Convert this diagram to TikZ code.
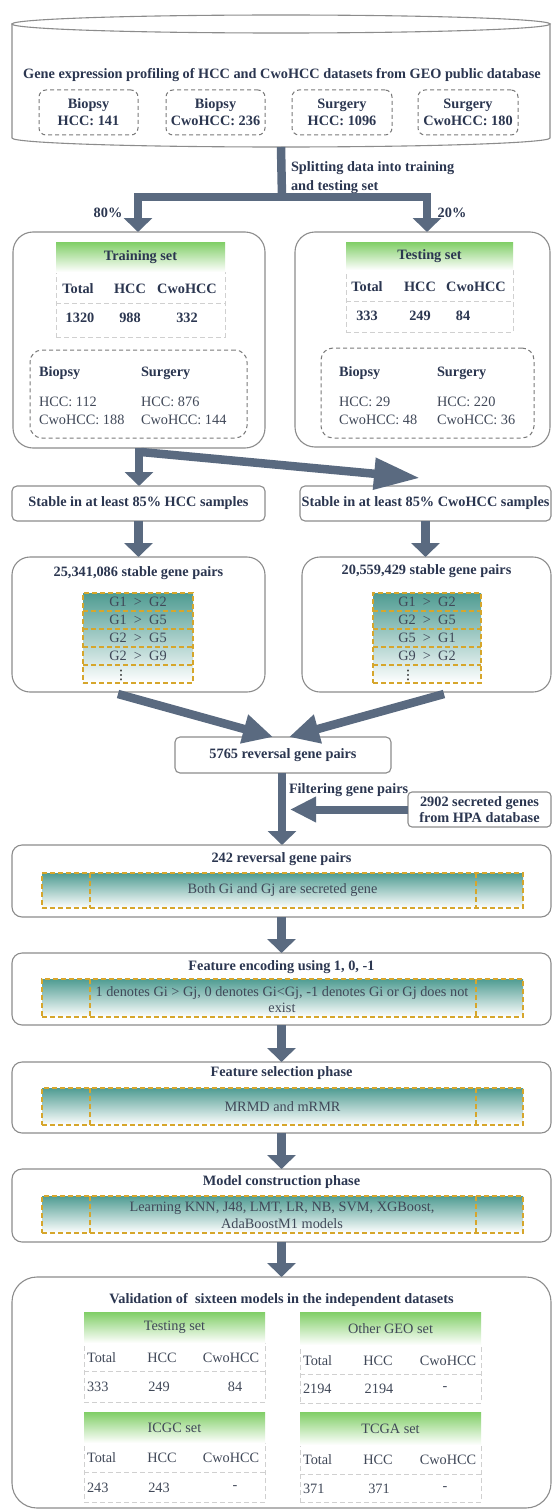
\documentclass[tikz,border=0pt]{standalone}
\usepackage{fontspec}
\setmainfont{Liberation Serif}
\newfontfamily\symfont{DejaVu Sans}
\usetikzlibrary{arrows.meta,calc}
\definecolor{txt}{HTML}{2B3650}
\definecolor{ntxt}{HTML}{404858}
\definecolor{bord}{HTML}{8C8C8C}
\definecolor{arrc}{HTML}{5A6A80}
\definecolor{grn}{HTML}{80CE66}
\definecolor{tealc}{HTML}{4F9C92}
\definecolor{gold}{HTML}{D6A62C}
\definecolor{dgray}{HTML}{7A7A7A}
\definecolor{lgray}{HTML}{D0D0D0}
\newcommand\myfs{\fontsize{14.3}{17}\selectfont}
\begin{document}
\begin{tikzpicture}[x=1pt,y=-1pt,
  every node/.style={inner sep=0pt, outer sep=0pt},
  bt/.style={font=\myfs\bfseries, text=txt},
  nt/.style={font=\myfs, text=ntxt},
  rbox/.style={draw=bord, line width=1.1pt, fill=white, rounded corners=#1},
  rbox/.default=18pt,
  dbox/.style={draw=dgray, line width=1pt, dash pattern=on 4pt off 3pt, rounded corners=#1},
  dbox/.default=8pt,
  ghead/.style={top color=grn, bottom color=white, draw=none},
  ltab/.style={draw=lgray, line width=0.9pt, dash pattern=on 5pt off 3pt},
  ttab/.style={top color=tealc, bottom color=white, draw=gold, line width=1.5pt, dash pattern=on 5pt off 3pt},
  gdash/.style={draw=gold, line width=1.5pt, dash pattern=on 5pt off 3pt},
  tline/.style={line width=8.5pt, draw=arrc},
  arrow/.style={line width=8.5pt, draw=arrc, -{Triangle[width=28pt,length=14pt]}},
  vdot/.style={font=\symfont\fontsize{13}{13}\selectfont, text=black},
]
\useasboundingbox (0,0) rectangle (553,1509);

% ---------- database cylinder ----------
\filldraw[draw=bord, line width=1.1pt, fill=white] (12,24) -- (12,138)
  arc[start angle=180, end angle=360, x radius=269pt, y radius=9pt] -- (550,24) -- cycle;
\filldraw[draw=bord, line width=1.1pt, fill=white] (281,24) ellipse [x radius=269pt, y radius=9pt];
\coordinate (dbbot) at (281,147);
\node[bt] (dbtitle) at (282,75) {Gene expression profiling of HCC and CwoHCC datasets from GEO public database};
\node[dbox=7pt, minimum width=99pt, minimum height=45pt, bt, align=center] (b1) at (88.5,112.5) {Biopsy\\HCC: 141};
\node[dbox=7pt, minimum width=99pt, minimum height=45pt, bt, align=center] (b2) at (215.5,112.5) {Biopsy\\CwoHCC: 236};
\node[dbox=7pt, minimum width=100pt, minimum height=45pt, bt, align=center] (b3) at (342,112.5) {Surgery\\HCC: 1096};
\node[dbox=7pt, minimum width=100pt, minimum height=45pt, bt, align=center] (b4) at (468,112.5) {Surgery\\CwoHCC: 180};

% ---------- split ----------
\coordinate (split) at (282,197);
\coordinate (splitL) at (138,197);
\coordinate (splitR) at (427,197);
\node[bt, anchor=west, align=left, font=\fontsize{14.3}{19}\selectfont\bfseries] (splitlbl) at (291,177.5) {Splitting data into training\\and testing set};
\node[bt] (p80) at (108,213) {80\%};
\node[bt] (p20) at (452,213) {20\%};

% ---------- training / testing ----------
\node[rbox=20pt, minimum width=252pt, minimum height=216pt] (train) at (139,340) {};
\node[rbox=20pt, minimum width=255pt, minimum height=215pt] (test) at (422.5,339.5) {};

\draw[tline] (dbbot) -- (split);
\draw[tline, line cap=rect] (splitL) -- (splitR);
\draw[arrow] (splitL) -- (splitL |- train.north);
\draw[arrow] (splitR) -- (splitR |- test.north);

% training table
\node[ltab, minimum width=169pt, minimum height=65pt] (trt) at (140.5,304.5) {};
\draw[ltab] (trt.west |- 0,303) -- (trt.east |- 0,303);
\node[ghead, minimum width=169pt, minimum height=30pt, bt] (trh) at (140.5,257) {Training set};
\node[bt] (tr11) at (78,289) {Total};
\node[bt] (tr12) at (130,289) {HCC};
\node[bt] (tr13) at (187,289) {CwoHCC};
\node[bt] (tr21) at (80,318) {1320};
\node[bt] (tr22) at (130,318) {988};
\node[bt] (tr23) at (187,318) {332};
\node[dbox=12pt, minimum width=217pt, minimum height=88pt] (trd) at (138.5,394) {};
\node[bt, anchor=west] (trb) at (39,373) {Biopsy};
\node[bt, anchor=west] (trs) at (141,373) {Surgery};
\node[nt, anchor=west] (trb1) at (39,402) {HCC: 112};
\node[nt, anchor=west] (trb2) at (39,420) {CwoHCC: 188};
\node[nt, anchor=west] (trs1) at (141,402) {HCC: 876};
\node[nt, anchor=west] (trs2) at (141,420) {CwoHCC: 144};

% testing table
\node[ltab, minimum width=167pt, minimum height=62pt] (tet) at (429.5,301) {};
\draw[ltab] (tet.west |- 0,301) -- (tet.east |- 0,301);
\node[ghead, minimum width=167pt, minimum height=28pt, bt] (teh) at (429.5,256) {Testing set};
\node[bt] (te11) at (367,287) {Total};
\node[bt] (te12) at (420,287) {HCC};
\node[bt] (te13) at (476,287) {CwoHCC};
\node[bt] (te21) at (367,316) {333};
\node[bt] (te22) at (420,316) {249};
\node[bt] (te23) at (463,316) {84};
\node[dbox=12pt, minimum width=213pt, minimum height=90pt] (ted) at (427.5,393) {};
\node[bt, anchor=west] (teb) at (339,373) {Biopsy};
\node[bt, anchor=west] (tes) at (437,373) {Surgery};
\node[nt, anchor=west] (teb1) at (339,402) {HCC: 29};
\node[nt, anchor=west] (teb2) at (339,420) {CwoHCC: 48};
\node[nt, anchor=west] (tes1) at (437,402) {HCC: 220};
\node[nt, anchor=west] (tes2) at (437,420) {CwoHCC: 36};

% ---------- stable ----------
\node[rbox=5pt, minimum width=253pt, minimum height=35pt, bt] (stH) at (138.5,503.5) {Stable in at least 85\% HCC samples};
\node[rbox=5pt, minimum width=251pt, minimum height=35pt, bt] (stC) at (425.5,503.5) {Stable in at least 85\% CwoHCC samples};
\coordinate (diagst) at (141,452);
\coordinate (diagtip) at (420,478);
\draw[arrow] (train.south) -- (train.south |- stH.north);
\draw[line width=8.5pt, draw=arrc, -{Triangle[width=30pt,length=46pt]}] (diagst) -- (diagtip);

% ---------- pairs ----------
\node[rbox=18pt, minimum width=253pt, minimum height=135pt] (prL) at (138.5,624.5) {};
\node[rbox=18pt, minimum width=249pt, minimum height=135pt] (prR) at (426.5,624.5) {};
\draw[arrow] (stH.south) -- (stH.south |- prL.north);
\draw[arrow] (stC.south) -- (stC.south |- prR.north);
\node[bt] (prLt) at (138.5,573) {25,341,086 stable gene pairs};
\node[bt] (prRt) at (426.5,571) {20,559,429 stable gene pairs};
\node[ttab, minimum width=110pt, minimum height=90pt] (gtL) at (138,638) {};
\node[ttab, minimum width=108pt, minimum height=90pt] (gtR) at (427,638) {};
\foreach \yy in {611,629,647,665} {
  \draw[gdash] (gtL.west |- 0,\yy) -- (gtL.east |- 0,\yy);
  \draw[gdash] (gtR.west |- 0,\yy) -- (gtR.east |- 0,\yy);
}
\node[nt] (gl1) at (138,602) {G1\enspace>\enspace G2};
\node[nt] (gl2) at (138,620) {G1\enspace>\enspace G5};
\node[nt] (gl3) at (138,638) {G2\enspace>\enspace G5};
\node[nt] (gl4) at (138,656) {G2\enspace>\enspace G9};
\node[vdot] (gl5) at (121,675) {⋮};
\node[nt] (gr1) at (427,602) {G1\enspace>\enspace G2};
\node[nt] (gr2) at (427,620) {G2\enspace>\enspace G5};
\node[nt] (gr3) at (427,638) {G5\enspace>\enspace G1};
\node[nt] (gr4) at (427,656) {G9\enspace>\enspace G2};
\node[vdot] (gr5) at (408,675) {⋮};

% ---------- reversal ----------
\node[rbox=5pt, minimum width=216pt, minimum height=36pt, bt] (rev) at (283,755) {5765 reversal gene pairs};
\coordinate (cvL) at (118,694);
\coordinate (cvR) at (444,694);
\draw[line width=8.5pt, draw=arrc, -{Triangle[width=28pt,length=30pt]}] (cvL) -- ($(rev.north)+(-10,0)$);
\draw[line width=8.5pt, draw=arrc, -{Triangle[width=28pt,length=30pt]}] (cvR) -- ($(rev.north)+(6,0)$);

% ---------- 242 ----------
\node[rbox=10pt, minimum width=539pt, minimum height=72pt] (sel) at (281.5,881) {};
\node[bt] (selt) at (281.5,859) {242 reversal gene pairs};
\node[ttab, minimum width=481pt, minimum height=35pt, nt] (selg) at (282.5,890.5) {Both Gi and Gj are secreted gene};
\draw[gdash] (90,873) -- (90,908);
\draw[gdash] (476,873) -- (476,908);
\coordinate (revout) at (282,773);
\draw[arrow] (revout) -- (revout |- sel.north);
\node[bt, anchor=west] (filtlbl) at (289,790) {Filtering gene pairs};
\node[rbox=4pt, minimum width=143pt, minimum height=35pt, bt, align=center, font=\fontsize{14.3}{16}\selectfont\bfseries] (hpa) at (479.5,809.5) {2902 secreted genes\\from HPA database};
\coordinate (filt) at (290,809.5);
\draw[line width=8pt, draw=arrc, -{Triangle[width=24pt,length=26pt]}] (hpa.west) -- (filt);

% ---------- encoding ----------
\node[rbox=10pt, minimum width=539pt, minimum height=72pt] (enc) at (281.5,989) {};
\node[bt] (enct) at (281.5,967) {Feature encoding using 1, 0, -1};
\node[ttab, minimum width=481pt, minimum height=38pt] (encg) at (282.5,998) {};
\node[nt, align=center, font=\fontsize{14.3}{16}\selectfont] (encx) at (282,1000) {1 denotes Gi > Gj, 0 denotes Gi<Gj, -1 denotes Gi or Gj does not\\exist};
\draw[gdash] (90,979) -- (90,1017);
\draw[gdash] (476,979) -- (476,1017);
\draw[arrow] (sel.south) -- (sel.south |- enc.north);

% ---------- feature selection ----------
\node[rbox=10pt, minimum width=539pt, minimum height=71pt] (fsel) at (281.5,1097.5) {};
\node[bt] (fselt) at (281.5,1073) {Feature selection phase};
\node[ttab, minimum width=481pt, minimum height=37pt, nt] (fselg) at (282.5,1106.5) {MRMD and mRMR};
\draw[gdash] (90,1088) -- (90,1125);
\draw[gdash] (476,1088) -- (476,1125);
\draw[arrow] (enc.south) -- (enc.south |- fsel.north);

% ---------- model ----------
\node[rbox=10pt, minimum width=539pt, minimum height=73pt] (model) at (281.5,1205.5) {};
\node[bt] (modelt) at (281.5,1182) {Model construction phase};
\node[ttab, minimum width=481pt, minimum height=37pt] (modelg) at (282.5,1214.5) {};
\node[nt, align=center, font=\fontsize{14.3}{17}\selectfont] (modelx) at (282,1215.5) {Learning KNN, J48, LMT, LR, NB, SVM, XGBoost,\\AdaBoostM1 models};
\draw[gdash] (90,1196) -- (90,1233);
\draw[gdash] (476,1196) -- (476,1233);
\draw[arrow] (fsel.south) -- (fsel.south |- model.north);

% ---------- validation ----------
\node[rbox=25pt, minimum width=539pt, minimum height=231pt] (val) at (281.5,1392.5) {};
\draw[arrow] (model.south) -- (model.south |- val.north);
\node[bt] (valt) at (281.5,1300) {Validation of \ sixteen models in the independent datasets};

% Testing set
\node[ltab, minimum width=181pt, minimum height=59pt] (v1t) at (174.5,1372.5) {};
\draw[ltab] (v1t.west |- 0,1371) -- (v1t.east |- 0,1371);
\node[ghead, minimum width=181pt, minimum height=31pt, nt] (v1h) at (174.5,1327.5) {Testing set};
\node[nt, anchor=west] (v111) at (87,1358) {Total};
\node[nt] (v112) at (162,1358) {HCC};
\node[nt] (v113) at (231,1358) {CwoHCC};
\node[nt, anchor=west] (v121) at (87,1387) {333};
\node[nt] (v122) at (159,1387) {249};
\node[nt] (v123) at (235,1387) {84};

% Other GEO set
\node[ltab, minimum width=181pt, minimum height=58pt] (v2t) at (390.5,1374) {};
\draw[ltab] (v2t.west |- 0,1374) -- (v2t.east |- 0,1374);
\node[ghead, minimum width=181pt, minimum height=33pt, nt] (v2h) at (390.5,1328.5) {Other GEO set};
\node[nt, anchor=west] (v211) at (303,1361) {Total};
\node[nt] (v212) at (378,1361) {HCC};
\node[nt] (v213) at (448,1361) {CwoHCC};
\node[nt, anchor=west] (v221) at (303,1389) {2194};
\node[nt] (v222) at (379,1389) {2194};
\node[nt] (v223) at (445,1389) {-};

% ICGC set
\node[ltab, minimum width=181pt, minimum height=59pt] (v3t) at (174.5,1472.5) {};
\draw[ltab] (v3t.west |- 0,1472) -- (v3t.east |- 0,1472);
\node[ghead, minimum width=181pt, minimum height=31pt, nt] (v3h) at (174.5,1427.5) {ICGC set};
\node[nt, anchor=west] (v311) at (87,1458) {Total};
\node[nt] (v312) at (162,1458) {HCC};
\node[nt] (v313) at (231,1458) {CwoHCC};
\node[nt, anchor=west] (v321) at (87,1488) {243};
\node[nt] (v322) at (159,1488) {243};
\node[nt] (v323) at (235,1488) {-};

% TCGA set
\node[ltab, minimum width=181pt, minimum height=57pt] (v4t) at (390.5,1473.5) {};
\draw[ltab] (v4t.west |- 0,1474) -- (v4t.east |- 0,1474);
\node[ghead, minimum width=181pt, minimum height=33pt, nt] (v4h) at (390.5,1428.5) {TCGA set};
\node[nt, anchor=west] (v411) at (303,1460) {Total};
\node[nt] (v412) at (378,1460) {HCC};
\node[nt] (v413) at (448,1460) {CwoHCC};
\node[nt, anchor=west] (v421) at (303,1489) {371};
\node[nt] (v422) at (379,1489) {371};
\node[nt] (v423) at (445,1489) {-};
\end{tikzpicture}
\end{document}
